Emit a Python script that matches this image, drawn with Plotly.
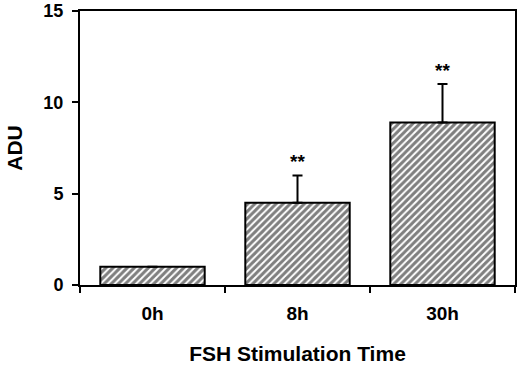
import plotly.graph_objects as go

categories = ["0h", "8h", "30h"]
values = [1.0, 4.5, 8.9]
err_plus = [0.0, 1.5, 2.1]
sig_labels = ["", "**", "**"]
y_ticks = [0, 5, 10, 15]

FONT = "Liberation Sans, Arial, sans-serif"

fig = go.Figure()
fig.add_trace(go.Bar(
    x=categories, y=values,
    width=0.72,
    marker=dict(color="white",
                line=dict(color="black", width=2),
                pattern=dict(shape="/", fgcolor="black", bgcolor="white", size=5, solidity=0.6)),
    error_y=dict(type="data", array=err_plus, arrayminus=[0, 0, 0], symmetric=False,
                 color="black", thickness=2, width=5),
))

for c, v, e, s in zip(categories, values, err_plus, sig_labels):
    if s:
        fig.add_annotation(x=c, y=v + e, text=s, showarrow=False,
                           yanchor="bottom", yshift=1,
                           font=dict(family=FONT, size=19, color="black", weight="bold"))

fig.update_layout(
    width=520, height=367,
    margin=dict(l=80, r=5, t=11, b=82, autoexpand=False),
    plot_bgcolor="white", paper_bgcolor="white",
    showlegend=False,
    font=dict(family=FONT, color="black"),
)
fig.update_xaxes(
    showline=True, linecolor="black", linewidth=2, mirror=True,
    ticks="outside", tickson="boundaries", ticklen=6, tickwidth=2, tickcolor="black",
    tickfont=dict(family=FONT, size=19, color="black", weight="bold"),
    ticklabelstandoff=10,
    title=dict(text="FSH Stimulation Time", font=dict(family=FONT, size=21, color="black", weight="bold"), standoff=24),
    showgrid=False, automargin=False,
)
fig.update_yaxes(
    range=[0, 15], tickvals=y_ticks,
    showline=True, linecolor="black", linewidth=2, mirror=True,
    ticks="outside", ticklen=6, tickwidth=2, tickcolor="black",
    tickfont=dict(family=FONT, size=18, color="black", weight="bold"),
    ticklabelstandoff=5,
    title=dict(text="ADU", font=dict(family=FONT, size=21, color="black", weight="bold"), standoff=15),
    showgrid=False, zeroline=False, automargin=False,
)

fig.write_html("out.html", config={"displayModeBar": False},
               post_script="document.body.style.margin='0';")
